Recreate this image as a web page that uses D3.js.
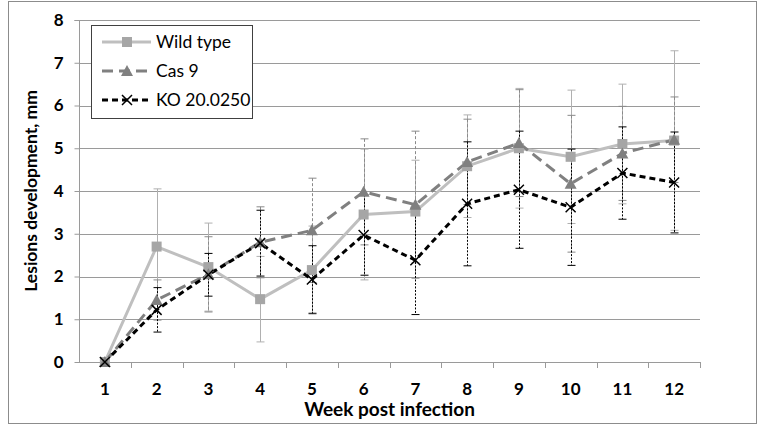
<!DOCTYPE html>
<html><head><meta charset="utf-8">
<script src="https://cdn.jsdelivr.net/npm/d3@7"></script>
<style>body{margin:0;background:#fff}svg{display:block;font-family:Lato,"Open Sans",sans-serif}</style>
</head><body><svg id="c" width="764" height="431"></svg>
<script>
const weeks = [1,2,3,4,5,6,7,8,9,10,11,12];
const wildType = [0,2.7,2.22,1.47,2.15,3.45,3.52,4.58,5.0,4.8,5.1,5.18];
const wildTypeErr = [0,1.35,1.03,1.0,1.03,1.53,1.2,1.2,1.4,1.56,1.4,2.1];
const cas9 = [0,1.45,2.05,2.8,3.08,3.98,3.68,4.68,5.12,4.17,4.88,5.2];
const cas9Err = [0,0.47,0.88,0.83,1.22,1.24,1.72,1.0,1.25,1.6,1.1,1.0];
const ko = [0,1.22,2.04,2.78,1.93,2.97,2.38,3.7,4.03,3.62,4.42,4.2];
const koErr = [0,0.52,0.5,0.77,0.79,0.94,1.27,1.45,1.37,1.36,1.08,1.18];
const yTicks = [0,1,2,3,4,5,6,7,8];
const seriesNames = ["Wild type","Cas 9","KO 20.0250"];

const series = [
  {name:seriesNames[0], vals:wildType, err:wildTypeErr, color:"#bfbfbf", mcolor:"#a6a6a6", dash:null, marker:"square", ecolor:"#b0b0b0", edash:null},
  {name:seriesNames[1], vals:cas9, err:cas9Err, color:"#808080", mcolor:"#808080", dash:"11,6", marker:"triangle", ecolor:"#8a8a8a", edash:"3,2"},
  {name:seriesNames[2], vals:ko, err:koErr, color:"#000000", mcolor:"#000000", dash:"6,4", marker:"x", ecolor:"#000", edash:"2,1.5"}
];

const svg = d3.select("#c");
const L=79, R=700, T=20, B=362;
const x = d3.scaleBand().domain(weeks).range([L,R]);
const y = d3.scaleLinear().domain([0,8]).range([B,T]);
const cx = d => x(d)+x.bandwidth()/2;

// outer border
svg.append("rect").attr("x",8.5).attr("y",1.5).attr("width",748).attr("height",422).attr("fill","none").attr("stroke","#8c8c8c").attr("stroke-width",1);

// gridlines
svg.append("g").selectAll("line").data(yTicks.filter(t=>t>0)).join("line")
  .attr("x1",L).attr("x2",R).attr("y1",d=>Math.round(y(d))+0.5).attr("y2",d=>Math.round(y(d))+0.5)
  .attr("stroke","#9a9a9a").attr("stroke-width",1);

// y axis
const yAx = svg.append("g").attr("transform",`translate(${L+0.5},0)`)
  .call(d3.axisLeft(y).tickValues(yTicks).tickSize(5).tickPadding(11).tickFormat(d3.format("d")));
yAx.select(".domain").attr("stroke","#9a9a9a").attr("d",`M-5,${y(8)+0.5}H0V${B+0.5}`);
yAx.selectAll(".tick line").attr("stroke","#9a9a9a");
yAx.selectAll(".tick text").attr("font-size",17).attr("font-weight","bold").attr("fill","#000").attr("font-family","Lato");

// x axis
const xAx = svg.append("g").attr("transform",`translate(0,${B+0.5})`)
  .call(d3.axisBottom(x).tickSize(0).tickPadding(20));
xAx.select(".domain").attr("stroke","#9a9a9a").attr("d",`M${L},0H${R}`);
xAx.selectAll(".tick text").attr("font-size",17).attr("font-weight","bold").attr("fill","#000").attr("font-family","Lato");
const bounds = weeks.map(w=>x(w)).concat([R]);
svg.append("g").selectAll("line").data(bounds.slice(1)).join("line")
  .attr("x1",d=>Math.round(d)+0.5).attr("x2",d=>Math.round(d)+0.5).attr("y1",B).attr("y2",B+6)
  .attr("stroke","#9a9a9a");

// axis titles
svg.append("text").attr("x",(L+R)/2).attr("y",416).attr("text-anchor","middle")
  .attr("font-size",19).attr("font-weight","bold").text("Week post infection");
svg.append("text").attr("transform",`translate(37,${(T+B)/2}) rotate(-90)`).attr("text-anchor","middle")
  .attr("font-size",17.5).attr("font-weight","bold").text("Lesions development, mm");

// error bars
series.forEach(s=>{
  const g = svg.append("g");
  weeks.forEach((w,i)=>{
    if(!s.err[i]) return;
    const xx = Math.round(cx(w))+0.5;
    const y1 = y(s.vals[i]+s.err[i]), y2 = y(s.vals[i]-s.err[i]);
    g.append("line").attr("x1",xx).attr("x2",xx).attr("y1",y1).attr("y2",y2)
      .attr("stroke",s.ecolor).attr("stroke-width",1).attr("stroke-dasharray",s.edash);
    [y1,y2].forEach(yy=>g.append("line").attr("x1",xx-4).attr("x2",xx+4).attr("y1",yy).attr("y2",yy)
      .attr("stroke",s.ecolor).attr("stroke-width",1));
  });
});

// lines
const line = d3.line().x((d,i)=>cx(weeks[i])).y(d=>y(d));
series.forEach(s=>{
  svg.append("path").datum(s.vals).attr("d",line).attr("fill","none")
    .attr("stroke",s.color).attr("stroke-width",3).attr("stroke-dasharray",s.dash);
});

function drawMarker(g,type,px,py,color){
  if(type==="square") g.append("rect").attr("x",px-5).attr("y",py-5).attr("width",10).attr("height",10).attr("fill",color);
  else if(type==="triangle") g.append("path").attr("d",`M${px},${py-6}L${px+6},${py+5}L${px-6},${py+5}Z`).attr("fill",color);
  else g.append("path").attr("d",`M${px-5},${py-5}L${px+5},${py+5}M${px+5},${py-5}L${px-5},${py+5}`).attr("stroke",color).attr("stroke-width",1.5);
}
series.forEach(s=>{
  const g = svg.append("g");
  s.vals.forEach((v,i)=>drawMarker(g,s.marker,cx(weeks[i]),y(v),s.mcolor));
});

// legend
const lg = svg.append("g");
lg.append("rect").attr("x",91.5).attr("y",25.5).attr("width",161).attr("height",93).attr("fill","#fff").attr("stroke","#404040");
series.forEach((s,i)=>{
  const yy = 42 + i*29;
  lg.append("line").attr("x1",102).attr("x2",151).attr("y1",yy).attr("y2",yy)
    .attr("stroke",s.color).attr("stroke-width",3).attr("stroke-dasharray",s.dash);
  drawMarker(lg,s.marker,127,yy,s.mcolor);
  lg.append("text").attr("x",156).attr("y",yy+6).attr("font-size",17.5).text(s.name);
});
</script></body></html>
